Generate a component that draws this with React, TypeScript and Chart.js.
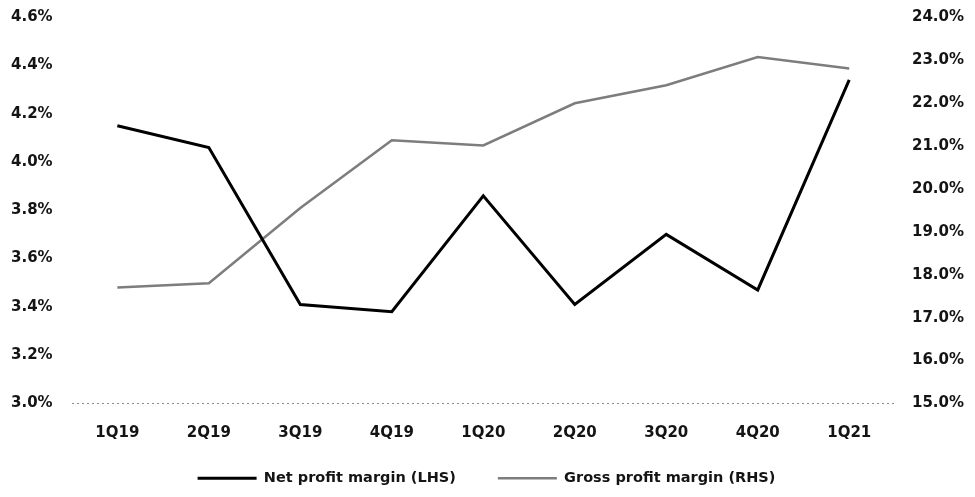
import { useEffect, useRef } from 'react';
import { Chart, registerables } from 'chart.js';

Chart.register(...registerables);

const QUARTERS = ['1Q19', '2Q19', '3Q19', '4Q19', '1Q20', '2Q20', '3Q20', '4Q20', '1Q21'];
const NET_PROFIT_MARGIN = [4.15, 4.06, 3.41, 3.38, 3.86, 3.41, 3.7, 3.47, 4.34];
const GROSS_PROFIT_MARGIN = [17.7, 17.8, 19.55, 21.13, 21.01, 21.99, 22.41, 23.07, 22.8];
const LHS_TICKS = [3.0, 3.2, 3.4, 3.6, 3.8, 4.0, 4.2, 4.4, 4.6];
const RHS_TICKS = [15, 16, 17, 18, 19, 20, 21, 22, 23, 24];

const TEXT = '#141414';
const TICK_FONT = { family: 'DejaVu Sans', size: 15, weight: 'bold' as const };
const HALF_LABEL = (TICK_FONT.size * 1.2) / 2;
const LEGEND_LIFT = 34.5;

// Raises the legend row so it sits close under the axis labels
// while keeping wide horizontal spacing between the two items.
const legendLift = {
  id: 'legendLift',
  afterLayout(chart: any) {
    const lg = chart.legend;
    if (lg) {
      lg.top -= LEGEND_LIFT;
      lg.bottom -= LEGEND_LIFT;
    }
  },
};

// Only keep room for half a label above/below the value axes.
const trimAxisPadding = (scale: any) => {
  scale.paddingTop = HALF_LABEL;
  scale.paddingBottom = HALF_LABEL;
};

export default function App() {
  const ref = useRef<HTMLCanvasElement | null>(null);

  useEffect(() => {
    if (!ref.current) return;
    const chart = new Chart(ref.current, {
      type: 'line',
      data: {
        labels: QUARTERS,
        datasets: [
          {
            label: 'Net profit margin (LHS)',
            data: NET_PROFIT_MARGIN,
            borderColor: '#000000',
            backgroundColor: '#000000',
            borderWidth: 3,
            pointRadius: 0,
            tension: 0,
            yAxisID: 'y',
          },
          {
            label: 'Gross profit margin (RHS)',
            data: GROSS_PROFIT_MARGIN,
            borderColor: '#7d7d7d',
            backgroundColor: '#7d7d7d',
            borderWidth: 2.5,
            pointRadius: 0,
            tension: 0,
            yAxisID: 'y1',
          },
        ],
      },
      options: {
        responsive: true,
        maintainAspectRatio: false,
        animation: false,
        layout: { padding: { left: -16, right: -14, top: 0, bottom: -41 } },
        plugins: {
          tooltip: { enabled: false },
          legend: {
            position: 'bottom',
            labels: {
              boxWidth: 59,
              boxHeight: 0,
              padding: 42,
              color: TEXT,
              font: { family: 'DejaVu Sans', size: 14.5, weight: 'bold' },
            },
          },
        },
        scales: {
          x: {
            offset: true,
            grid: { display: false, drawTicks: false },
            border: { display: false },
            ticks: { color: TEXT, font: TICK_FONT, padding: 21, maxRotation: 0 },
          },
          y: {
            position: 'left',
            min: 3.0,
            max: 4.6,
            afterBuildTicks: (scale: any) => {
              scale.ticks = LHS_TICKS.map((v) => ({ value: v }));
            },
            afterFit: trimAxisPadding,
            grid: {
              drawTicks: false,
              color: (ctx: any) =>
                ctx.tick && Math.abs(ctx.tick.value - LHS_TICKS[0]) < 1e-9 ? '#8a8a8a' : 'rgba(0,0,0,0)',
              lineWidth: 1,
            },
            border: { display: false, dash: [2, 3] },
            ticks: {
              color: TEXT,
              font: TICK_FONT,
              padding: 19,
              callback: (v: any) => Number(v).toFixed(1) + '%',
            },
          },
          y1: {
            position: 'right',
            min: 15,
            max: 24,
            afterBuildTicks: (scale: any) => {
              scale.ticks = RHS_TICKS.map((v) => ({ value: v }));
            },
            afterFit: trimAxisPadding,
            grid: { display: false, drawTicks: false },
            border: { display: false },
            ticks: {
              color: TEXT,
              font: TICK_FONT,
              padding: 17,
              callback: (v: any) => Number(v).toFixed(1) + '%',
            },
          },
        },
      },
      plugins: [legendLift],
    });
    return () => chart.destroy();
  }, []);

  return (
    <div style={{ position: 'relative', width: 959, height: 481 }}>
      <canvas ref={ref} />
    </div>
  );
}
